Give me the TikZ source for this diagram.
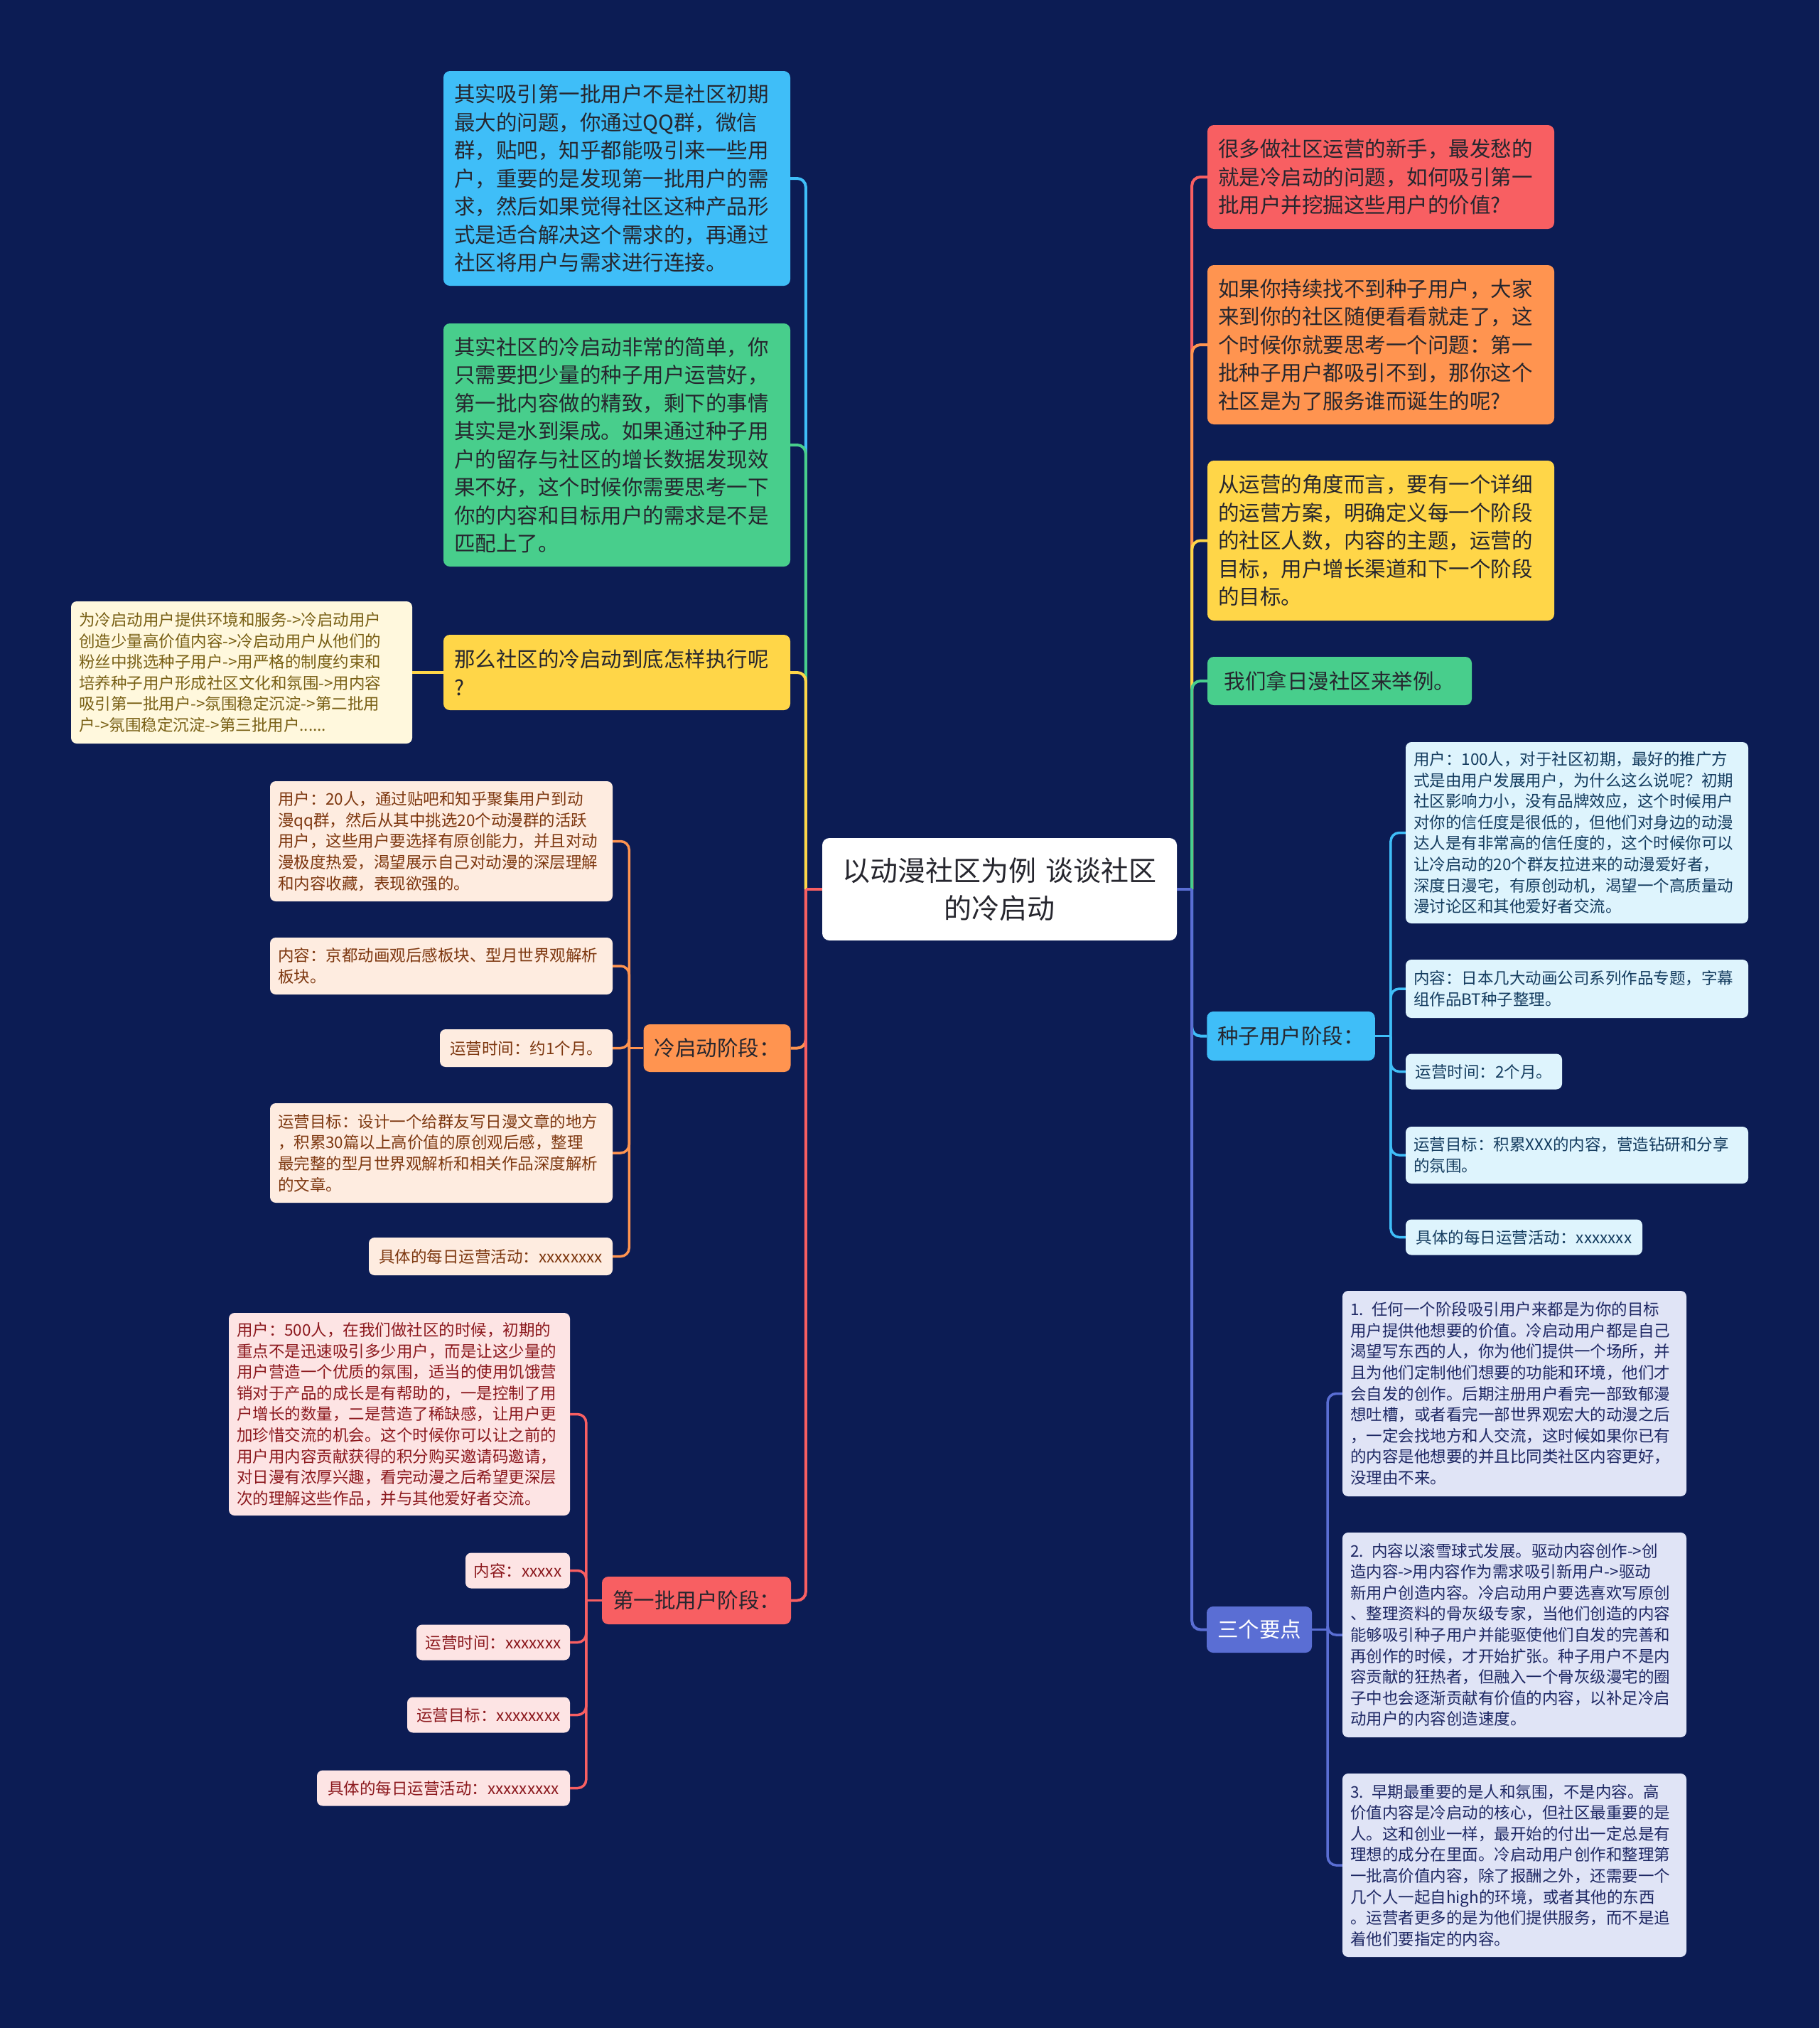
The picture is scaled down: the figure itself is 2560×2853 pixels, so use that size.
\documentclass[tikz,border=0pt]{standalone}
\usepackage{fontspec}
\setmainfont{Noto Sans CJK SC}
\usetikzlibrary{calc}
\definecolor{mapbg}{RGB}{12,28,84}
\definecolor{maptext}{RGB}{38,38,46}
\definecolor{mapblue}{RGB}{63,190,248}
\definecolor{mapgreen}{RGB}{72,206,140}
\definecolor{mapyellow}{RGB}{255,214,72}
\definecolor{maporange}{RGB}{255,148,80}
\definecolor{mapred}{RGB}{248,95,98}
\definecolor{mapindigo}{RGB}{90,110,212}
\definecolor{creamfill}{RGB}{255,248,221}
\definecolor{creamtext}{RGB}{120,95,20}
\definecolor{peachfill}{RGB}{254,236,224}
\definecolor{peachtext}{RGB}{125,55,15}
\definecolor{pinkfill}{RGB}{253,228,228}
\definecolor{pinktext}{RGB}{140,25,30}
\definecolor{cyanfill}{RGB}{222,244,253}
\definecolor{cyantext}{RGB}{20,60,95}
\definecolor{lavfill}{RGB}{224,228,246}
\definecolor{lavtext}{RGB}{30,40,100}
\tikzset{
  topic/.style={rounded corners=9pt, inner xsep=15pt, inner ysep=0pt, align=left,
    text=maptext, font=\fontsize{29.5}{39.5}\selectfont},
  leaf/.style={rounded corners=8pt, inner xsep=11pt, inner ysep=0pt, align=left,
    font=\fontsize{22.5}{29.6}\selectfont},
  link/.style={line width=3.5pt, rounded corners=12pt},
}

\begin{document}
\begin{tikzpicture}[x=1pt, y=-1pt]
    \fill[mapbg] (0,0) rectangle (2560,2853);

    \node[fill=white, rounded corners=10pt, align=center, text=maptext, inner xsep=20pt, inner ysep=0pt,
      text width=459pt, minimum height=144pt, font=\fontsize{39}{53}\selectfont] (theme) at (1406.5,1251)
      {以动漫社区为例 谈谈社区\\的冷启动};

    \node[topic, fill=mapblue, text width=458pt, minimum height=302pt] (attract) at (868,251)
      {其实吸引第一批用户不是社区初期\\最大的问题，你通过QQ群，微信\\群，贴吧，知乎都能吸引来一些用\\户，重要的是发现第一批用户的需\\求，然后如果觉得社区这种产品形\\式是适合解决这个需求的，再通过\\社区将用户与需求进行连接。};
    \node[topic, fill=mapgreen, text width=458pt, minimum height=342pt] (simple) at (868,626)
      {其实社区的冷启动非常的简单，你\\只需要把少量的种子用户运营好，\\第一批内容做的精致，剩下的事情\\其实是水到渠成。如果通过种子用\\户的留存与社区的增长数据发现效\\果不好，这个时候你需要思考一下\\你的内容和目标用户的需求是不是\\匹配上了。};
    \node[topic, fill=mapyellow, text width=458pt, minimum height=106pt] (howto) at (868,946)
      {那么社区的冷启动到底怎样执行呢\\?};
    \node[leaf, fill=creamfill, text=creamtext, text width=458pt, minimum height=200pt] (flow) at (340,946)
      {为冷启动用户提供环境和服务->冷启动用户\\创造少量高价值内容->冷启动用户从他们的\\粉丝中挑选种子用户->用严格的制度约束和\\培养种子用户形成社区文化和氛围->用内容\\吸引第一批用户->氛围稳定沉淀->第二批用\\户->氛围稳定沉淀->第三批用户......};

    \node[topic, fill=maporange, minimum width=206pt, minimum height=67pt] (cold) at (1009,1474.5) {冷启动阶段：};
    \node[leaf, fill=peachfill, text=peachtext, text width=460pt, minimum height=169pt] (cold1) at (621,1183.5)
      {用户：20人，通过贴吧和知乎聚集用户到动\\漫qq群，然后从其中挑选20个动漫群的活跃\\用户，这些用户要选择有原创能力，并且对动\\漫极度热爱，渴望展示自己对动漫的深层理解\\和内容收藏，表现欲强的。};
    \node[leaf, fill=peachfill, text=peachtext, text width=460pt, minimum height=80pt] (cold2) at (621,1359)
      {内容：京都动画观后感板块、型月世界观解析\\板块。};
    \node[leaf, fill=peachfill, text=peachtext, minimum width=243pt, minimum height=53pt] (cold3) at (740.5,1474.5)
      {运营时间：约1个月。};
    \node[leaf, fill=peachfill, text=peachtext, text width=460pt, minimum height=140pt] (cold4) at (621,1622)
      {运营目标：设计一个给群友写日漫文章的地方\\，积累30篇以上高价值的原创观后感，整理\\最完整的型月世界观解析和相关作品深度解析\\的文章。};
    \node[leaf, fill=peachfill, text=peachtext, minimum width=343pt, minimum height=53pt] (cold5) at (690.5,1767.5)
      {具体的每日运营活动：xxxxxxxx};

    \node[topic, fill=mapred, minimum width=264pt, minimum height=67pt] (first) at (980,2251.5) {第一批用户阶段：};
    \node[leaf, fill=pinkfill, text=pinktext, text width=458pt, minimum height=285pt] (first1) at (562,1989.5)
      {用户：500人，在我们做社区的时候，初期的\\重点不是迅速吸引多少用户，而是让这少量的\\用户营造一个优质的氛围，适当的使用饥饿营\\销对于产品的成长是有帮助的，一是控制了用\\户增长的数量，二是营造了稀缺感，让用户更\\加珍惜交流的机会。这个时候你可以让之前的\\用户用内容贡献获得的积分购买邀请码邀请，\\对日漫有浓厚兴趣，看完动漫之后希望更深层\\次的理解这些作品，并与其他爱好者交流。};
    \node[leaf, fill=pinkfill, text=pinktext, minimum width=147pt, minimum height=50pt] (first2) at (728.5,2209.5) {内容：xxxxx};
    \node[leaf, fill=pinkfill, text=pinktext, minimum width=216pt, minimum height=50pt] (first3) at (694,2310.5) {运营时间：xxxxxxx};
    \node[leaf, fill=pinkfill, text=pinktext, minimum width=229pt, minimum height=50pt] (first4) at (687.5,2412.5) {运营目标：xxxxxxxx};
    \node[leaf, fill=pinkfill, text=pinktext, minimum width=356pt, minimum height=50pt] (first5) at (624,2515.5) {具体的每日运营活动：xxxxxxxxx};

    \node[topic, fill=mapred, text width=458pt, minimum height=146pt] (novice) at (1943,249)
      {很多做社区运营的新手，最发愁的\\就是冷启动的问题，如何吸引第一\\批用户并挖掘这些用户的价值?};
    \node[topic, fill=maporange, text width=458pt, minimum height=224pt] (missing) at (1943,485)
      {如果你持续找不到种子用户，大家\\来到你的社区随便看看就走了，这\\个时候你就要思考一个问题：第一\\批种子用户都吸引不到，那你这个\\社区是为了服务谁而诞生的呢?};
    \node[topic, fill=mapyellow, text width=458pt, minimum height=225pt] (plan) at (1943,760.5)
      {从运营的角度而言，要有一个详细\\的运营方案，明确定义每一个阶段\\的社区人数，内容的主题，运营的\\目标，用户增长渠道和下一个阶段\\的目标。};
    \node[topic, fill=mapgreen, minimum width=372pt, minimum height=68pt] (example) at (1885,958) {我们拿日漫社区来举例。};

    \node[topic, fill=mapblue, minimum width=235pt, minimum height=69pt] (seed) at (1816.5,1457.5) {种子用户阶段：};
    \node[leaf, fill=cyanfill, text=cyantext, text width=460pt, minimum height=255pt] (seed1) at (2219,1171.5)
      {用户：100人，对于社区初期，最好的推广方\\式是由用户发展用户，为什么这么说呢？初期\\社区影响力小，没有品牌效应，这个时候用户\\对你的信任度是很低的，但他们对身边的动漫\\达人是有非常高的信任度的，这个时候你可以\\让冷启动的20个群友拉进来的动漫爱好者，\\深度日漫宅，有原创动机，渴望一个高质量动\\漫讨论区和其他爱好者交流。};
    \node[leaf, fill=cyanfill, text=cyantext, text width=460pt, minimum height=82pt] (seed2) at (2219,1391)
      {内容：日本几大动画公司系列作品专题，字幕\\组作品BT种子整理。};
    \node[leaf, fill=cyanfill, text=cyantext, minimum width=220pt, minimum height=50pt] (seed3) at (2088,1507.5) {运营时间：2个月。};
    \node[leaf, fill=cyanfill, text=cyantext, text width=460pt, minimum height=80pt] (seed4) at (2219,1625)
      {运营目标：积累XXX的内容，营造钻研和分享\\的氛围。};
    \node[leaf, fill=cyanfill, text=cyantext, minimum width=333pt, minimum height=50pt] (seed5) at (2144.5,1740.5) {具体的每日运营活动：xxxxxxx};

    \node[topic, fill=mapindigo, text=white, minimum width=146pt, minimum height=65pt] (points) at (1772,2292.5) {三个要点};
    \node[leaf, fill=lavfill, text=lavtext, text width=462pt, minimum height=289pt] (point1) at (2131,1960.5)
      {1. 任何一个阶段吸引用户来都是为你的目标\\用户提供他想要的价值。冷启动用户都是自己\\渴望写东西的人，你为他们提供一个场所，并\\且为他们定制他们想要的功能和环境，他们才\\会自发的创作。后期注册用户看完一部致郁漫\\想吐槽，或者看完一部世界观宏大的动漫之后\\，一定会找地方和人交流，这时候如果你已有\\的内容是他想要的并且比同类社区内容更好，\\没理由不来。};
    \node[leaf, fill=lavfill, text=lavtext, text width=462pt, minimum height=288pt] (point2) at (2131,2300)
      {2. 内容以滚雪球式发展。驱动内容创作->创\\造内容->用内容作为需求吸引新用户->驱动\\新用户创造内容。冷启动用户要选喜欢写原创\\、整理资料的骨灰级专家，当他们创造的内容\\能够吸引种子用户并能驱使他们自发的完善和\\再创作的时候，才开始扩张。种子用户不是内\\容贡献的狂热者，但融入一个骨灰级漫宅的圈\\子中也会逐渐贡献有价值的内容，以补足冷启\\动用户的内容创造速度。};
    \node[leaf, fill=lavfill, text=lavtext, text width=462pt, minimum height=258pt] (point3) at (2131,2624)
      {3. 早期最重要的是人和氛围，不是内容。高\\价值内容是冷启动的核心，但社区最重要的是\\人。这和创业一样，最开始的付出一定总是有\\理想的成分在里面。冷启动用户创作和整理第\\一批高价值内容，除了报酬之外，还需要一个\\几个人一起自high的环境，或者其他的东西\\。运营者更多的是为他们提供服务，而不是追\\着他们要指定的内容。};

    \coordinate (lhub) at ([xshift=-23pt]theme.west);
    \coordinate (rhub) at ([xshift=21pt]theme.east);
    \coordinate (coldhub) at ([xshift=-20pt]cold.west);
    \coordinate (firsthub) at ([xshift=-22pt]first.west);
    \coordinate (seedhub) at ([xshift=22pt]seed.east);
    \coordinate (pointshub) at ([xshift=22pt]points.east);

    \draw[link, line width=4pt, mapblue] (lhub) |- (attract.east);
    \draw[link, line width=4pt, mapgreen] (lhub) |- (simple.east);
    \draw[link, line width=4pt, mapyellow] (lhub) |- (howto.east);
    \draw[link, line width=4pt, maporange] (lhub) |- (cold.east);
    \draw[link, line width=4pt, mapred] (lhub) |- (first.east);
    \draw[link, line width=4pt, mapred] (theme.west) -- (lhub);
    \draw[link, mapyellow] (howto.west) -- (flow.east);

    \draw[link, maporange] (cold.west) -- (coldhub);
    \foreach \n in {cold1,cold2,cold3,cold4,cold5}
      \draw[link, maporange] (coldhub) |- (\n.east);
    \draw[link, mapred] (first.west) -- (firsthub);
    \foreach \n in {first1,first2,first3,first4,first5}
      \draw[link, mapred] (firsthub) |- (\n.east);

    \draw[link, line width=4pt, mapred] (rhub) |- (novice.west);
    \draw[link, line width=4pt, maporange] (rhub) |- (missing.west);
    \draw[link, line width=4pt, mapyellow] (rhub) |- (plan.west);
    \draw[link, line width=4pt, mapgreen] (rhub) |- (example.west);
    \draw[link, line width=4pt, mapblue] (rhub) |- (seed.west);
    \draw[link, line width=4pt, mapindigo] (rhub) |- (points.west);
    \draw[link, line width=4pt, mapindigo] (theme.east) -- (rhub);

    \draw[link, mapblue] (seed.east) -- (seedhub);
    \foreach \n in {seed1,seed2,seed3,seed4,seed5}
      \draw[link, mapblue] (seedhub) |- (\n.west);
    \draw[link, mapindigo] (points.east) -- (pointshub);
    \foreach \n in {point1,point2,point3}
      \draw[link, mapindigo] (pointshub) |- (\n.west);
  \end{tikzpicture}
\end{document}
